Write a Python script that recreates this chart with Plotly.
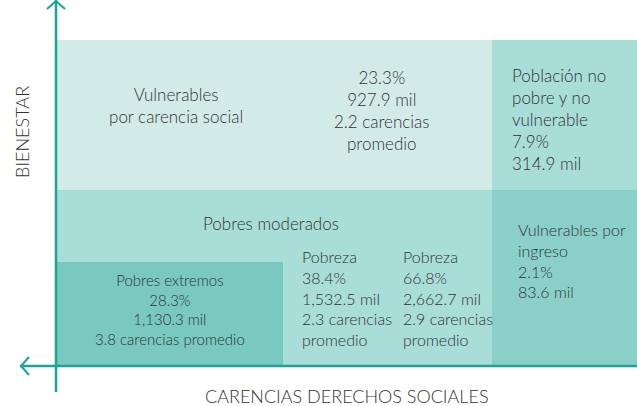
import plotly.graph_objects as go

# ---- data ----
grupos = ["Vulnerables por carencia social", "Población no pobre y no vulnerable",
          "Pobreza", "Pobreza", "Pobres extremos", "Vulnerables por ingreso"]
porcentaje = [23.3, 7.9, 38.4, 66.8, 28.3, 2.1]
miles = ["927.9", "314.9", "1,532.5", "2,662.7", "1,130.3", "83.6"]
carencias = [2.2, None, 2.3, 2.9, 3.8, None]
eje_x = "CARENCIAS DERECHOS SOCIALES"
eje_y = "BIENESTAR"

W, H = 637, 406
FONT = "Lato"
TXT = "#333333"
AX = "#1ba596"

fig = go.Figure()
fig.add_trace(go.Scatter(x=[0, W], y=[0, H], mode="markers", marker=dict(opacity=0),
                         hoverinfo="skip", showlegend=False))

shapes = []
def rect(x0, y0, x1, y1, color):
    shapes.append(dict(type="rect", xref="x", yref="y", x0=x0, x1=x1, y0=y0, y1=y1,
                       fillcolor=color, line=dict(width=0), layer="below"))

rect(56, 40, 492, 190, "#d2ebe7")
rect(492, 40, W, 190, "#a8ddd8")
rect(56, 190, 492, 366, "#a8ddd8")
rect(492, 190, W, 366, "#8ad0c9")
rect(56, 262, 283, 366, "#79c9c1")

def line(x0, y0, x1, y1, w=2.5):
    shapes.append(dict(type="line", xref="x", yref="y", x0=x0, y0=y0, x1=x1, y1=y1,
                       line=dict(color=AX, width=w)))

line(56, 0, 56, 392)
line(20, 366, W, 366)
shapes.append(dict(type="path", xref="x", yref="y", path="M 47 9 L 56 1 L 65 9",
                   line=dict(color=AX, width=2)))
shapes.append(dict(type="path", xref="x", yref="y", path="M 29 357 L 21 366 L 29 375",
                   line=dict(color=AX, width=2)))

ann = []
def text(x, y, t, size=17, xanchor="center", align="center", angle=0):
    ann.append(dict(x=x, y=y, xref="x", yref="y", text=t, showarrow=False,
                    xanchor=xanchor, yanchor="middle", align=align, textangle=angle,
                    font=dict(family=FONT, size=size, color=TXT, weight=300)))

def fmt(i, prom_break=True):
    s = f"{porcentaje[i]}%<br>{miles[i]} mil"
    if carencias[i] is not None:
        s += f"<br>{carencias[i]} carencias" + ("<br>promedio" if prom_break else " promedio")
    return s

text(176, 105, "Vulnerables<br>por carencia social")
text(382, 110, fmt(0))
text(510, 119, "Población no<br>pobre y no<br>vulnerable<br>" + fmt(1), xanchor="left", align="left")
text(271, 223, "Pobres moderados")
text(300, 298, grupos[2] + "<br>" + fmt(2), size=16, xanchor="left", align="left")
text(401, 298, grupos[3] + "<br>" + fmt(3), size=16, xanchor="left", align="left")
text(170, 309, grupos[4] + "<br>" + fmt(4, prom_break=False), size=15)
text(516, 260, "Vulnerables por<br>ingreso<br>" + fmt(5), size=16, xanchor="left", align="left")
text(22, 132, eje_y, size=18, angle=-90)
text(347, 396, eje_x, size=18)

fig.update_layout(width=W, height=H, margin=dict(l=0, r=0, t=0, b=0),
                  paper_bgcolor="white", plot_bgcolor="white",
                  xaxis=dict(range=[0, W], visible=False, fixedrange=True),
                  yaxis=dict(range=[H, 0], visible=False, fixedrange=True),
                  shapes=shapes, annotations=ann, showlegend=False)
fig.write_html("out.html", config={"displayModeBar": False},
               post_script="document.body.style.margin='0';document.body.style.overflow='hidden';")
